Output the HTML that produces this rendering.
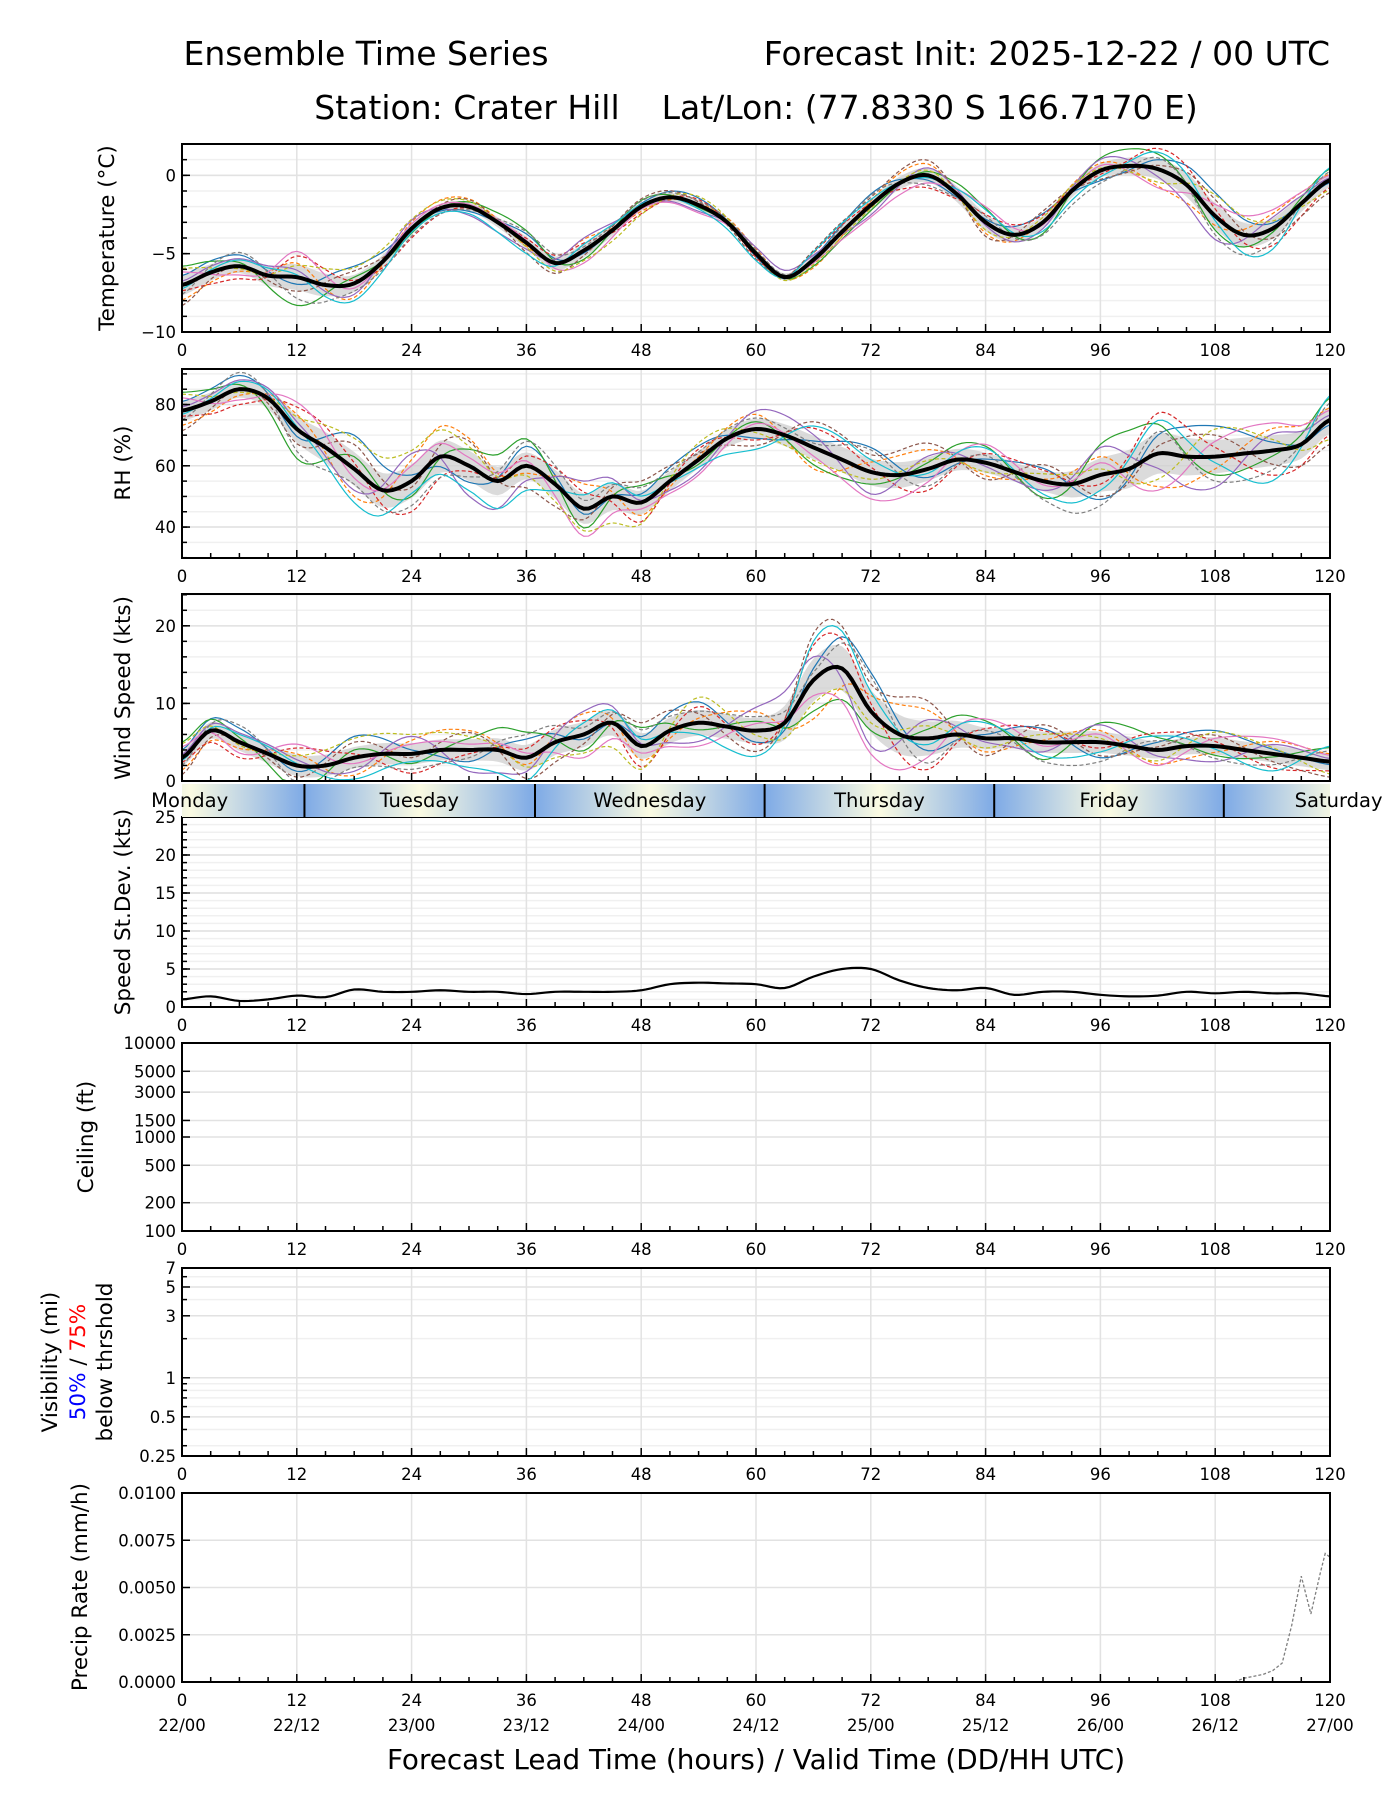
<!DOCTYPE html>
<html><head><meta charset="utf-8">
<style>
html,body{margin:0;padding:0;background:#fff;}
svg{display:block;font-family:"DejaVu Sans","Liberation Sans",sans-serif;}
</style></head>
<body>
<svg id="chart" width="1400" height="1800" viewBox="0 0 1400 1800" xmlns="http://www.w3.org/2000/svg">
<text x="366" y="65" font-size="33" text-anchor="middle">Ensemble Time Series</text>
<text x="1330" y="65" font-size="33" text-anchor="end">Forecast Init: 2025-12-22 / 00 UTC</text>
<text x="756" y="119" font-size="33" text-anchor="middle">Station: Crater Hill &#160;&#160; Lat/Lon: (77.8330 S 166.7170 E)</text>
<text x="756" y="1769" font-size="27.8" text-anchor="middle">Forecast Lead Time (hours) / Valid Time (DD/HH UTC)</text>
<g id="layer"></g>
</svg>
<script>
// ---- data ----
const hours3 = [0,3,6,9,12,15,18,21,24,27,30,33,36,39,42,45,48,51,54,57,60,63,66,69,72,75,78,81,84,87,90,93,96,99,102,105,108,111,114,117,120];
const tempMean = [-7,-6.2,-5.8,-6.4,-6.5,-7.0,-6.9,-5.5,-3.4,-2.1,-2.0,-3.0,-4.3,-5.6,-4.8,-3.5,-2.0,-1.4,-1.9,-3.0,-5.0,-6.5,-5.4,-3.6,-1.9,-0.5,0.0,-1.2,-3.0,-3.8,-3.0,-1.0,0.3,0.6,0.4,-0.6,-2.6,-3.8,-3.4,-1.8,-0.3];
const rhMean = [78,81,85,82,72,66,59,52,55,63,60,55,60,54,46,50,48,55,62,69,72,70,66,62,58,57,59,62,61,58,55,54,57,59,64,63,63,64,65,67,75];
const windMean = [3,6.5,5,3.5,2,2,3,3.5,3.5,4,4,4,3,5,6,7.5,4.5,6.5,7.5,7,6.5,7.5,13,14.5,9,6,5.5,6,5.5,5.5,5,5,5,4.5,4,4.5,4.5,4,3.5,3,2.5];
const stdDev = [1,1.4,0.8,1,1.5,1.3,2.3,2,2,2.2,2,2,1.7,2,2,2,2.2,3,3.2,3.1,3,2.5,4,5,5,3.5,2.5,2.2,2.5,1.6,2,2,1.6,1.4,1.5,2,1.8,2,1.8,1.8,1.4];
const hours6 = [0,6,12,18,24,30,36,42,48,54,60,66,72,78,84,90,96,102,108,114,120];
const tempSpread = [1.2,0.8,1.5,1.0,0.6,0.5,0.7,0.8,0.5,0.5,0.4,0.5,0.7,0.8,1.0,0.8,0.8,1.2,1.5,1.2,0.8];
const rhSpread = [6,5,8,10,10,9,8,9,7,5,6,7,8,7,6,6,10,12,10,9,8];
const windSpread = [2,2,2.5,2.5,2.5,2.5,3,3,3,3,3,5,5,4,2.5,2.5,2.5,2,2,2,2];
const memberDev = [
 [0.5,0.9,-0.3,1.1,0.2,-0.6,0.8,-0.2,0.4,0.9,-0.5,0.3,1.0,-0.4,0.2,0.7,-0.8,0.5,1.0,0.3,-0.2],
 [-0.8,-0.4,0.6,-0.9,0.7,1.0,-0.3,0.9,-0.6,0.2,0.8,-1.0,0.4,0.9,-0.7,0.1,0.6,-0.9,-0.4,0.8,0.5],
 [1.0,0.3,-1.2,0.4,-0.5,0.6,1.1,-0.7,0.8,-0.3,0.4,-0.8,-0.5,0.3,0.9,-0.9,1.0,0.8,-0.6,-0.2,0.9],
 [-0.3,-1.0,0.9,0.2,-1.0,-0.2,0.4,0.6,-0.9,0.7,-0.6,0.9,0.2,-1.0,0.5,0.6,-0.3,1.1,0.3,-0.9,-0.6],
 [0.2,0.6,0.3,-0.7,0.9,-1.1,-0.6,1.0,0.1,-0.8,1.0,0.6,-0.9,0.6,-0.2,-0.5,0.9,-0.4,-1.0,0.6,0.2],
 [-1.1,0.1,-0.6,0.8,-0.2,0.9,-0.9,-0.4,1.0,0.4,-0.9,1.2,0.7,1.2,-0.9,0.9,-0.7,0.2,0.7,-0.5,-1.0],
 [0.7,-0.7,1.1,-0.3,0.5,0.3,0.2,-1.0,-0.3,-1.0,0.3,-0.4,-1.1,-0.6,1.0,-0.2,0.4,-1.0,0.5,1.0,0.4],
 [-0.5,1.1,-0.9,-0.5,-0.8,-0.4,1.0,0.3,0.7,0.5,0.6,0.2,0.9,-0.8,0.4,-1.0,-1.0,0.6,-0.8,-0.7,0.7],
 [0.9,-0.2,0.5,1.0,1.0,0.7,-0.4,-0.8,-1.0,1.1,-0.2,-0.6,-0.3,0.4,-0.5,0.4,0.2,-0.7,0.9,0.4,-0.8],
 [-0.2,0.5,0.1,-1.1,-0.4,-0.9,-1.0,0.5,0.3,-0.5,-1.1,1.0,0.5,-0.2,0.8,-0.7,-0.5,0.9,-0.2,-1.1,1.0]
];
const memberColors = ['#1f77b4','#ff7f0e','#2ca02c','#d62728','#9467bd','#8c564b','#e377c2','#7f7f7f','#bcbd22','#17becf'];
const memberDashed = [false,true,false,true,false,true,false,true,true,false];
const precipHours = [110,111,112,113,114,115,116,117,118,119,119.5,120];
const precipValues = [0,0.0002,0.0003,0.0004,0.0006,0.001,0.003,0.0056,0.0036,0.0058,0.0068,0.0066];
const dayNames = ['Monday','Tuesday','Wednesday','Thursday','Friday','Saturday'];
const dayStarts = [-11.2,12.8,36.9,60.9,84.9,108.9];
const xTicks = [0,12,24,36,48,60,72,84,96,108,120];
const xDateLabels = ['22/00','22/12','23/00','23/12','24/00','24/12','25/00','25/12','26/00','26/12','27/00'];

// ---- layout ----
const NS='http://www.w3.org/2000/svg';
const layer=document.getElementById('layer');
const X0=182,X1=1330;
const xs=h=>X0+(h/120)*(X1-X0);
function mk(tag,attrs,parent){const e=document.createElementNS(NS,tag);for(const k in attrs)e.setAttribute(k,attrs[k]);(parent||layer).appendChild(e);return e;}
function txt(s,attrs,parent){const e=mk('text',attrs,parent);e.textContent=s;return e;}
function cr(arr,step,h){const n=arr.length;let i=Math.floor(h/step);if(i>=n-1)i=n-2;const t=h/step-i;
 const p0=arr[Math.max(i-1,0)],p1=arr[i],p2=arr[i+1],p3=arr[Math.min(i+2,n-1)];
 return 0.5*((2*p1)+(-p0+p2)*t+(2*p0-5*p1+4*p2-p3)*t*t+(-p0+3*p1-3*p2+p3)*t*t*t);}

function panel(cfg){
 const g=mk('g',{});
 
 
 const {top,bot}=cfg;
 const ys=cfg.log?(v=>bot-(Math.log(v)-Math.log(cfg.min))/(Math.log(cfg.max)-Math.log(cfg.min))*(bot-top)):(v=>bot-(v-cfg.min)/(cfg.max-cfg.min)*(bot-top));
 (cfg.minor||[]).forEach(v=>{mk('line',{x1:X0,x2:X1,y1:ys(v),y2:ys(v),stroke:'#f0f0f0','stroke-width':1.5},g);});
 cfg.yTicks.forEach(v=>{mk('line',{x1:X0,x2:X1,y1:ys(v),y2:ys(v),stroke:'#e2e2e2','stroke-width':1.5},g);});
 xTicks.forEach(h=>{mk('line',{x1:xs(h),x2:xs(h),y1:top,y2:bot,stroke:'#e2e2e2','stroke-width':1.5},g);});
 cfg.draw&&cfg.draw(g,ys);
 for(let h=0;h<=120;h+=3){const major=h%12===0;mk('line',{x1:xs(h),x2:xs(h),y1:bot,y2:bot-(major?8:5),stroke:'#000','stroke-width':1.5},g);}
 (cfg.minor||[]).forEach(v=>{mk('line',{x1:X0,x2:X0+5,y1:ys(v),y2:ys(v),stroke:'#000','stroke-width':1.5},g);});
 cfg.yTicks.forEach((v,i)=>{mk('line',{x1:X0,x2:X0+8,y1:ys(v),y2:ys(v),stroke:'#000','stroke-width':1.5},g);
  const t=txt(cfg.yLabels[i],{x:X0-6,y:ys(v)+6,'font-size':16.5,'text-anchor':'end'},g);
  
  });
 mk('rect',{x:X0,y:top,width:X1-X0,height:bot-top,fill:'none',stroke:'#000','stroke-width':2},g);
 if(cfg.xLabels!==false){xTicks.forEach(h=>{const t=txt(String(h),{x:xs(h),y:bot+24,'font-size':16.5,'text-anchor':'middle'},g);
  
  });}
 return {g,ys};
}
function drawEnsemble(mean,spread,floor){
 return (g,ys)=>{
  const clip=v=>floor!==undefined?Math.max(floor,v):v;
  let up=[],dn=[];
  for(let h=0;h<=120;h+=0.5){const m=cr(mean,3,h),s=cr(spread,6,h)*0.55;up.push(xs(h)+','+ys(clip(m+s)));dn.unshift(xs(h)+','+ys(clip(m-s)));}
  const band=mk('polygon',{points:up.concat(dn).join(' '),fill:'#cfcfcf','fill-opacity':0.75},g);
  
  
  memberDev.forEach((dev,k)=>{
   let pts=[];
   for(let h=0;h<=120;h+=0.5){const v=cr(mean,3,h)+cr(dev,6,h)*cr(spread,6,h);pts.push(xs(h)+','+ys(clip(v)));}
   const p=mk('polyline',{points:pts.join(' '),fill:'none',stroke:memberColors[k],'stroke-width':1.2,'stroke-dasharray':memberDashed[k]?'4,2.5':'none'},g);
   
   
  });
  let pts=[];
  for(let h=0;h<=120;h+=0.5)pts.push(xs(h)+','+ys(cr(mean,3,h)));
  const p=mk('polyline',{points:pts.join(' '),fill:'none',stroke:'#000','stroke-width':4},g);
  
  
 };
}
function rng(a,b,s){const r=[];for(let v=a;v<=b+1e-9;v+=s)r.push(+v.toFixed(4));return r;}

panel({name:'temperature',top:144,bot:332,min:-10,max:2,yTicks:[-10,-5,0],yLabels:['\u221210','\u22125','0'],minor:rng(-9,2,1),draw:drawEnsemble(tempMean,tempSpread)});
panel({name:'rh',top:369,bot:558,min:29.9,max:91.6,yTicks:[40,60,80],yLabels:['40','60','80'],minor:rng(30,90,5),draw:drawEnsemble(rhMean,rhSpread)});
panel({name:'wind-speed',top:594,bot:781,min:0,max:24.1,yTicks:[0,10,20],yLabels:['0','10','20'],minor:rng(2,24,2),draw:drawEnsemble(windMean,windSpread,0),xLabels:false});
panel({name:'speed-stdev',top:817,bot:1007,min:0,max:25,yTicks:[0,5,10,15,20,25],yLabels:['0','5','10','15','20','25'],minor:rng(1,24,1),draw:(g,ys)=>{
 let pts=[];for(let h=0;h<=120;h+=0.5)pts.push(xs(h)+','+ys(cr(stdDev,3,h)));
 const p=mk('polyline',{points:pts.join(' '),fill:'none',stroke:'#000','stroke-width':2.2},g);
 
 }});
panel({name:'ceiling',top:1043,bot:1231,min:100,max:10000,log:true,yTicks:[100,200,500,1000,1500,3000,5000,10000],yLabels:['100','200','500','1000','1500','3000','5000','10000']});
panel({name:'visibility',top:1268,bot:1456,min:0.25,max:7,log:true,yTicks:[0.25,0.5,1,3,5,7],yLabels:['0.25','0.5','1','3','5','7'],minor:[0.3,0.4,0.6,0.7,0.8,0.9,2,4,6]});
panel({name:'precip',top:1493,bot:1682,min:0,max:0.01,yTicks:[0,0.0025,0.005,0.0075,0.01],yLabels:['0.0000','0.0025','0.0050','0.0075','0.0100'],draw:(g,ys)=>{
 const pts=precipHours.map((h,i)=>xs(h)+','+ys(precipValues[i]));
 const p=mk('polyline',{points:pts.join(' '),fill:'none',stroke:'#7f7f7f','stroke-width':1.3,'stroke-dasharray':'3,2'},g);
 
 }});
xDateLabels.forEach((s,i)=>{const t=txt(s,{x:xs(xTicks[i]),y:1731,'font-size':16.5,'text-anchor':'middle'});
 
 });

// day bar
const defs=mk('defs',{});
const grad=mk('linearGradient',{id:'dayGrad',x1:0,x2:1,y1:0,y2:0},defs);
mk('stop',{offset:'0','stop-color':'#7eaae6'},grad);
mk('stop',{offset:'0.5','stop-color':'#fbfbe2'},grad);
mk('stop',{offset:'1','stop-color':'#7eaae6'},grad);
const cp=mk('clipPath',{id:'barClip'},defs);
mk('rect',{x:X0,y:784,width:X1-X0,height:33},cp);
const bar=mk('g',{'clip-path':'url(#barClip)'});


dayStarts.forEach((d,i)=>{
 const r=mk('rect',{x:xs(d),y:784,width:xs(d+24)-xs(d),height:33,fill:'url(#dayGrad)'},bar);
 
 
 if(i>0){mk('line',{x1:xs(d),x2:xs(d),y1:784,y2:817,stroke:'#000','stroke-width':2},bar);}
});
dayNames.forEach((n,i)=>{
 let cx=xs(dayStarts[i]+12);
 const t=txt(n,{x:cx,y:807,'font-size':19.5,'text-anchor':'middle'});
 
 
});

function ytitle(s,x,cy,name,color){const t=txt(s,{x:x,y:cy,'font-size':21.5,'text-anchor':'middle',transform:'rotate(-90 '+x+' '+cy+')',fill:color||'#000'});
 
 return t;}
ytitle('Temperature (\u00b0C)',114,238,'temperature-axis-title');
ytitle('RH (%)',130,463,'rh-axis-title');
ytitle('Wind Speed (kts)',130,688,'wind-axis-title');
ytitle('Speed St.Dev. (kts)',130,912,'stdev-axis-title');
ytitle('Ceiling (ft)',93,1137,'ceiling-axis-title');
ytitle('Visibility (mi)',57,1362,'visibility-axis-title');
const v2=ytitle('',85,1362,'visibility-threshold-title');
const a=document.createElementNS(NS,'tspan');a.setAttribute('fill','#0000ff');a.textContent='50%';v2.appendChild(a);
const b=document.createElementNS(NS,'tspan');b.textContent=' / ';v2.appendChild(b);
const c=document.createElementNS(NS,'tspan');c.setAttribute('fill','#ff0000');c.textContent='75%';v2.appendChild(c);
ytitle('below thrshold',112,1362,'visibility-threshold-note');
ytitle('Precip Rate (mm/h)',87,1587,'precip-axis-title');
</script>
</body></html>
